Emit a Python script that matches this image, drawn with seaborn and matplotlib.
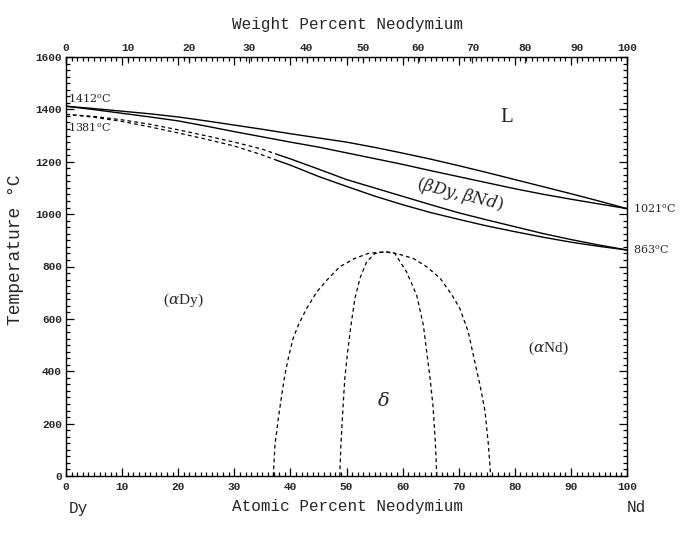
import numpy as np
import matplotlib
matplotlib.use("Agg")
import matplotlib.pyplot as plt
from matplotlib.ticker import MultipleLocator
import seaborn as sns

# Dy-Nd phase diagram, atomic percent Nd vs temperature (degC)
liq_x = [0, 5, 10, 15, 20, 25, 30, 35, 40, 45, 50, 55, 60, 65, 70, 75, 80, 85, 90, 95, 100]
liq_t = [1412, 1403, 1393, 1383, 1371, 1356, 1340, 1324, 1307, 1291, 1275, 1255, 1233, 1210,
         1185, 1159, 1132, 1105, 1078, 1050, 1021]
sol_x = [0, 5, 10, 15, 20, 25, 30, 35, 40, 45, 50, 55, 60, 65, 70, 75, 80, 85, 90, 95, 100]
sol_t = [1412, 1399, 1385, 1371, 1356, 1336, 1315, 1295, 1275, 1256, 1234, 1212, 1190, 1166,
         1143, 1120, 1097, 1076, 1057, 1039, 1021]

# beta/alpha transition, dashed part (Dy side) and solid part
bu_dash_x = [0, 5, 10, 15, 20, 25, 30, 35, 37.5]
bu_dash_t = [1381, 1373, 1360, 1343, 1322, 1299, 1275, 1248, 1229]
bl_dash_x = [0, 5, 10, 15, 20, 25, 30, 35, 37.5]
bl_dash_t = [1381, 1370, 1354, 1333, 1310, 1286, 1260, 1226, 1206]
bu_x = [37.5, 40, 45, 50, 55, 60, 65, 70, 75, 80, 85, 90, 95, 100]
bu_t = [1229, 1211, 1172, 1132, 1100, 1068, 1036, 1005, 978, 952, 926, 903, 882, 863]
bl_x = [37.5, 40, 45, 50, 55, 60, 65, 70, 75, 80, 85, 90, 95, 100]
bl_t = [1206, 1187, 1144, 1106, 1069, 1036, 1006, 980, 955, 933, 912, 893, 877, 863]

# delta phase dome (outer and inner dashed boundaries)
dome_out_x = [36.95, 37.25, 37.85, 38.45, 39.0, 39.75, 40.5, 41.4, 42.9, 44.7, 46.5, 48.8,
              51.5, 53.9, 55.7, 56.8, 58.0, 59.5, 61.9, 64.3, 66.7, 68.8, 70.2, 71.7, 72.6,
              73.8, 74.7, 75.3, 75.7]
dome_out_t = [0, 118, 220, 309, 385, 462, 526, 576, 640, 703, 748, 799, 831, 850, 854, 856,
              854, 846, 831, 799, 755, 691, 640, 551, 462, 347, 246, 118, 0]
dome_in_x = [48.8, 49.0, 49.4, 49.7, 50.2, 50.8, 51.5, 52.4, 53.6, 55.1, 56.8, 58.6, 60.7,
             62.5, 63.7, 64.3, 64.9, 65.4, 65.8, 66.1]
dome_in_t = [0, 118, 271, 373, 474, 576, 678, 755, 818, 850, 856, 850, 780, 691, 576, 474,
             373, 271, 144, 0]

wt_ticks = [0, 10, 20, 30, 40, 50, 60, 70, 80, 90, 100]
M_DY = 162.50
M_ND = 144.24


def at2wt(a):
    a = np.asarray(a, dtype=float)
    return 100 * a * M_ND / (a * M_ND + (100 - a) * M_DY)


def wt2at(w):
    w = np.asarray(w, dtype=float)
    return 100 * (w / M_ND) / (w / M_ND + (100 - w) / M_DY)


sns.set_style("ticks")
plt.rcParams['font.family'] = ['DejaVu Serif', 'DejaVu Sans']
plt.rcParams['mathtext.fontset'] = 'dejavuserif'

fig = plt.figure(figsize=(7, 5.5), dpi=100)
ax = fig.add_axes([66 / 700, 74 / 550, 561 / 700, 419 / 550])

solid = dict(color="black", lw=1.0, estimator=None, sort=False, ax=ax)
dashed = dict(color="black", lw=0.9, estimator=None, sort=False, ax=ax, dashes=[(3, 2.5)],
              style=1, legend=False)

sns.lineplot(x=liq_x, y=liq_t, **solid)
sns.lineplot(x=sol_x, y=sol_t, **solid)
sns.lineplot(x=bu_x, y=bu_t, **solid)
sns.lineplot(x=bl_x, y=bl_t, **solid)
for xs, ts in [(bu_dash_x, bu_dash_t), (bl_dash_x, bl_dash_t),
               (dome_out_x, dome_out_t), (dome_in_x, dome_in_t)]:
    sns.lineplot(x=xs, y=ts, **dashed)

ax.set_xlim(0, 100)
ax.set_ylim(0, 1600)
ax.xaxis.set_major_locator(MultipleLocator(10))
ax.xaxis.set_minor_locator(MultipleLocator(1))
ax.yaxis.set_major_locator(MultipleLocator(200))
ax.yaxis.set_minor_locator(MultipleLocator(25))
ax.tick_params(which="both", direction="in", top=True, right=True, width=0.9, color="black")
ax.tick_params(which="major", length=6, labelsize=8, pad=4)
ax.tick_params(which="minor", length=3)
ax.tick_params(axis="y", pad=3)
for lab in ax.get_xticklabels() + ax.get_yticklabels():
    lab.set_family("Liberation Mono")
    lab.set_weight("bold")
for s in ax.spines.values():
    s.set_linewidth(1.0)
    s.set_color("black")

sec = ax.secondary_xaxis("top", functions=(at2wt, wt2at))
sec.set_xticks(wt_ticks)
sec.tick_params(direction="in", length=4, labelsize=8, pad=3, width=0.9)
for lab in sec.get_xticklabels():
    lab.set_family("Liberation Mono")
    lab.set_weight("bold")
sec.spines["top"].set_visible(False)

ax.set_xlabel("")
ax.set_ylabel("")
fig.text(347 / 700, 1 - 25 / 550, "Weight Percent Neodymium", ha="center", va="center",
         family="Liberation Mono", fontsize=11.5)
fig.text(347 / 700, 1 - 506 / 550, "Atomic Percent Neodymium", ha="center", va="center",
         family="Liberation Mono", fontsize=11.5)
fig.text(16 / 700, 1 - 250 / 550, "Temperature \u00b0C", ha="center", va="center",
         rotation=90, family="Liberation Mono", fontsize=13)
fig.text(78 / 700, 1 - 508 / 550, "Dy", ha="center", va="center",
         family="Liberation Mono", fontsize=11.5)
fig.text(636 / 700, 1 - 508 / 550, "Nd", ha="center", va="center",
         family="Liberation Mono", fontsize=11.5)

# temperature annotations
ax.text(0.4, 1418, r"1412$^{\rm o}$C", ha="left", va="bottom", fontsize=8)
ax.text(0.4, 1352, r"1381$^{\rm o}$C", ha="left", va="top", fontsize=8)
ax.text(101, 1021, r"1021$^{\rm o}$C", ha="left", va="center", fontsize=8, clip_on=False)
ax.text(101, 863, r"863$^{\rm o}$C", ha="left", va="center", fontsize=8, clip_on=False)

# phase labels
ax.text(78.6, 1370, "L", ha="center", va="center", fontsize=15, family="Liberation Serif")
ax.text(70.2, 1073, r"($\beta Dy,\beta Nd$)", ha="center", va="center", fontsize=12,
        rotation=-14)
ax.text(20.9, 672, r"($\alpha$Dy)", ha="center", va="center", fontsize=11,
        family="Liberation Serif")
ax.text(85.9, 489, r"($\alpha$Nd)", ha="center", va="center", fontsize=11,
        family="Liberation Serif")
ax.text(56.5, 286, r"$\delta$", ha="center", va="center", fontsize=14)

fig.savefig("out.png", dpi=100, facecolor="white")
